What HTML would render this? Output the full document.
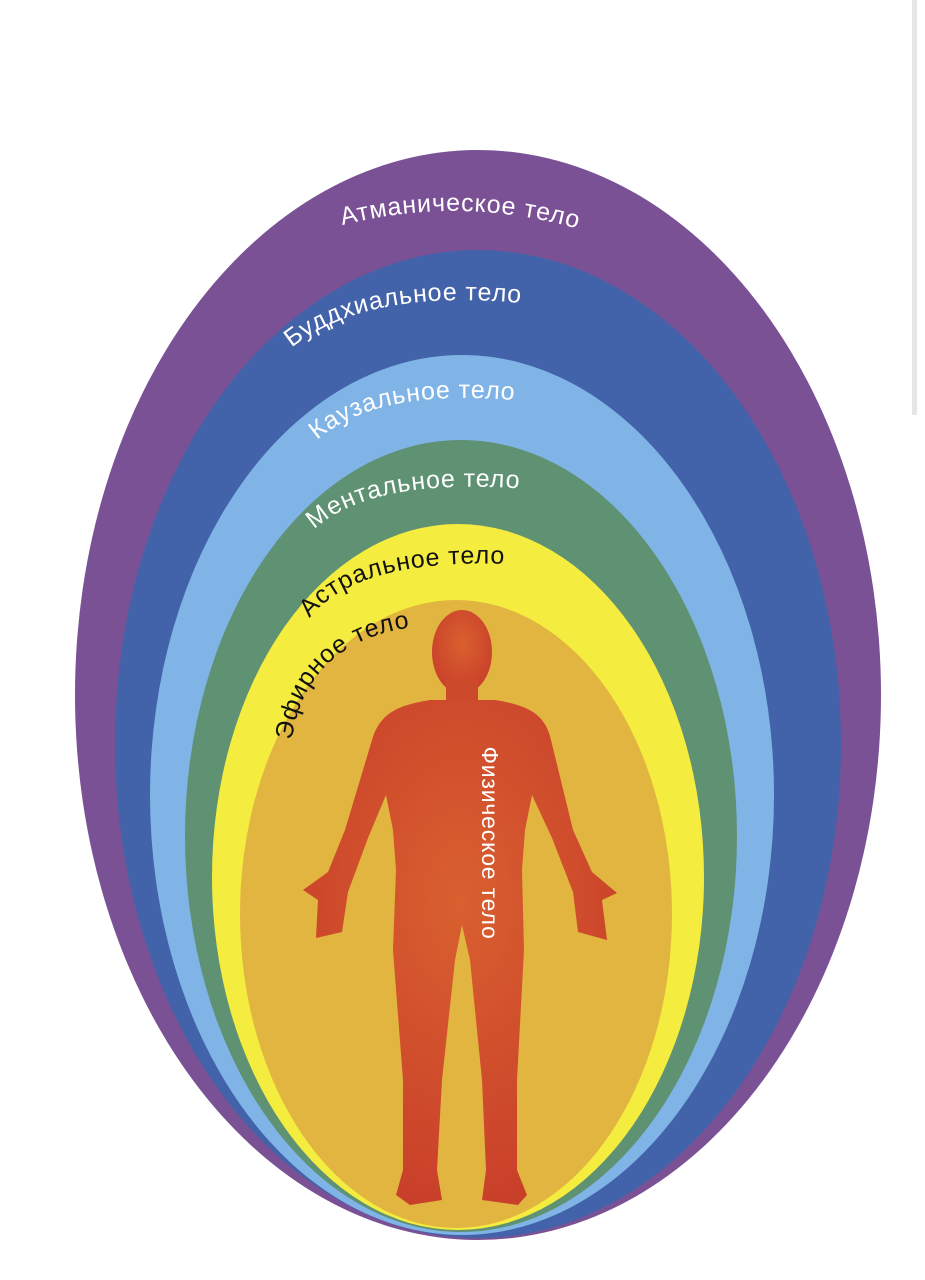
<!DOCTYPE html>
<html><head><meta charset="utf-8"><style>
html,body{margin:0;padding:0;background:#fff;}
svg{display:block;}
text{font-family:"Liberation Sans","DejaVu Sans",sans-serif;letter-spacing:0.8px;}
</style></head><body>
<svg width="925" height="1280" viewBox="0 0 925 1280" xmlns="http://www.w3.org/2000/svg">
<defs>
<radialGradient id="bodyg" cx="50%" cy="40%" r="60%">
<stop offset="0" stop-color="#d9602f"/><stop offset="1" stop-color="#c9402a"/>
</radialGradient>
<path id="p1" d="M325,230 Q460,190 595,234"/>
<path id="p2" d="M278,360 Q355,283 540,305"/>
<path id="p3" d="M305,452 Q365,383 532,402"/>
<path id="p4" d="M302,543 Q355,473 538,490"/>
<path id="p5" d="M298,638 Q335,553 528,565"/>
<path id="p6" d="M290,765 Q293,633 435,625"/>
</defs>
<rect x="912" y="0" width="5" height="415" fill="#e6e6e6"/>
<ellipse cx="478" cy="695" rx="403" ry="545" fill="#7a5195"/>
<ellipse cx="478" cy="744" rx="363" ry="494" fill="#4263a9"/>
<ellipse cx="462" cy="795" rx="312" ry="440" fill="#80b4e6"/>
<ellipse cx="461" cy="836" rx="276" ry="396" fill="#5f9273"/>
<ellipse cx="458" cy="877" rx="246" ry="353" fill="#f5ec40"/>
<ellipse cx="456" cy="914" rx="216" ry="314" fill="#e1b53f"/>
<text font-size="25" fill="#fff"><textPath href="#p1" startOffset="50%" text-anchor="middle">Атманическое тело</textPath></text>
<text font-size="25" fill="#fff"><textPath href="#p2" startOffset="50%" text-anchor="middle">Буддхиальное тело</textPath></text>
<text font-size="25" fill="#fff"><textPath href="#p3" startOffset="50%" text-anchor="middle">Каузальное тело</textPath></text>
<text font-size="25" fill="#fff"><textPath href="#p4" startOffset="50%" text-anchor="middle">Ментальное тело</textPath></text>
<text font-size="25" fill="#111"><textPath href="#p5" startOffset="50%" text-anchor="middle">Астральное тело</textPath></text>
<text font-size="25" fill="#111"><textPath href="#p6" startOffset="50%" text-anchor="middle">Эфирное тело</textPath></text>
<ellipse cx="462" cy="652" rx="30" ry="42" fill="url(#bodyg)"/>
<rect x="446" y="680" width="32" height="28" fill="#cc4a2b"/>
<path fill="url(#bodyg)" d="M430,700 C400,705 380,712 372,740 L345,830 L328,872 L303,890 L318,900 L316,938 L342,932 L348,892 L368,838 L386,795 L393,830 L396,870 L393,950 L403,1080 L403,1170 L396,1195 L410,1205 L442,1200 L437,1170 L442,1080 L455,960 L462,925 L470,960 L482,1080 L486,1170 L482,1200 L518,1205 L527,1195 L517,1170 L517,1080 L524,950 L522,870 L525,830 L532,795 L552,838 L573,892 L578,932 L607,940 L602,900 L617,893 L592,872 L573,830 L551,740 C545,712 525,705 495,700 Z"/>
<text font-size="23" fill="#fff" text-anchor="middle" transform="translate(482,843) rotate(90)">Физическое тело</text>
</svg>
</body></html>
